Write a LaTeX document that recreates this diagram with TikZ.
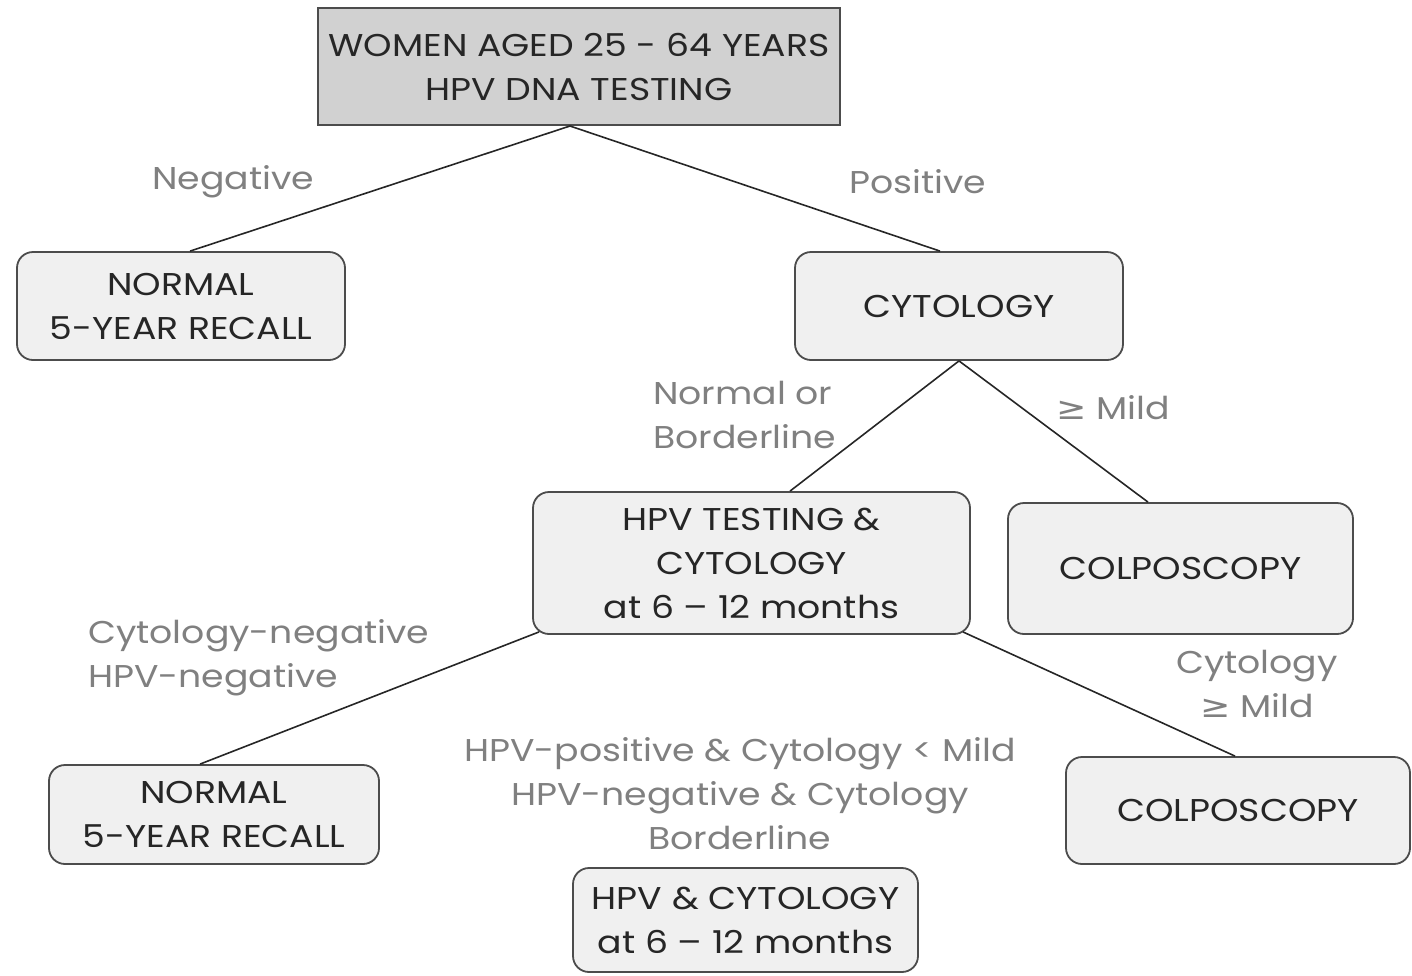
\documentclass[tikz,border=0pt]{standalone}
\usepackage{fontspec}
\setmainfont[FakeStretch=1.15]{Poppins}
\newfontfamily\symf[FakeStretch=1.15]{DejaVu Sans}
\newcommand{\gesym}{{\symf ≥}}
\begin{document}
\begin{tikzpicture}[x=1pt,y=-1pt,
  box/.style={draw=black!70,line width=1.8pt,fill=black!6,rounded corners=16pt,align=center,text=black!85,inner sep=0pt},
  topbox/.style={box,rounded corners=0pt,fill=black!18},
  lab/.style={text=black!50,align=center,inner sep=0pt},
  conn/.style={draw=black!85,line width=1.6pt},
  every node/.style={font=\fontsize{31.5}{44}\selectfont}]
\useasboundingbox (0,0) rectangle (1412,975);
\node[topbox,minimum width=522pt,minimum height=117pt] (top) at (579,66.5) {WOMEN AGED 25 - 64 YEARS\\HPV DNA TESTING};
\node[box,minimum width=328pt,minimum height=108pt] (n1) at (181,306) {NORMAL\\5-YEAR RECALL};
\node[box,minimum width=328pt,minimum height=108pt] (cyt) at (959,306) {CYTOLOGY};
\node[box,minimum width=437pt,minimum height=142pt] (hpv) at (751.5,563) {HPV TESTING \&\\CYTOLOGY\\at 6 -- 12 months};
\node[box,minimum width=345pt,minimum height=131pt] (col1) at (1180.5,568.5) {COLPOSCOPY};
\node[box,minimum width=330pt,minimum height=99pt] (n2) at (214,814.5) {NORMAL\\5-YEAR RECALL};
\node[box,minimum width=344pt,minimum height=107pt] (col2) at (1238,810.5) {COLPOSCOPY};
\node[box,minimum width=345pt,minimum height=104pt] (hc) at (745.5,920) {HPV \& CYTOLOGY\\at 6 -- 12 months};
\coordinate (topb) at (570,126);
\draw[conn] (topb) -- (n1.north -| 190,0);
\draw[conn] (topb) -- (cyt.north -| 940,0);
\draw[conn] (cyt.south) -- (hpv.north -| 790,0);
\draw[conn] (cyt.south) -- (col1.north -| 1148,0);
\draw[conn] (hpv.south west) ++(7,-3) coordinate (hsw) -- (n2.north -| 200,0);
\draw[conn] (hpv.south east) ++(-8,-3) coordinate (hse) -- (col2.north -| 1235,0);
\node[lab] (l1) at (233,182) {Negative};
\node[lab] (l2) at (918,182) {Positive};
\node[lab,align=left,anchor=west] (l3) at (653,415) {Normal or\\Borderline};
\node[lab] (l4) at (1113,408) {\gesym{} Mild};
\node[lab,align=left,anchor=west] (l5) at (88,658) {Cytology-negative\\HPV-negative};
\node[lab] (l6) at (740,794) {HPV-positive \& Cytology < Mild\\HPV-negative \& Cytology\\Borderline};
\node[lab] (l7) at (1257,684) {Cytology\\\gesym{} Mild};
\end{tikzpicture}
\end{document}
